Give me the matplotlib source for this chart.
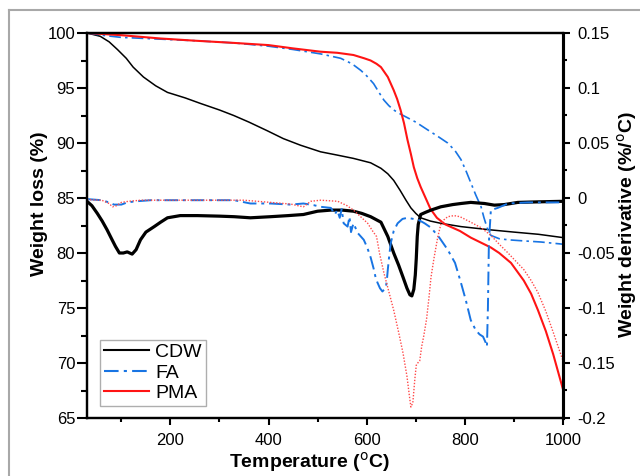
import matplotlib

matplotlib.use("Agg")

import matplotlib.pyplot as plt
from matplotlib.lines import Line2D
from matplotlib.ticker import MultipleLocator

plt.rcParams["font.family"] = ["Liberation Sans", "DejaVu Sans"]

# ---- TG curves (weight loss, %) ----
cdw_tg_t = [30, 57, 75, 92, 110, 124, 145, 170, 194, 230, 261, 300, 329, 360, 398, 430, 465, 506,
            540, 573, 608, 629, 643, 655, 668, 680, 690, 700, 710, 730, 751, 792, 853, 900, 950, 1000]
cdw_tg_w = [100, 99.7, 99.2, 98.5, 97.7, 96.9, 96.0, 95.2, 94.6, 94.1, 93.6, 93.0, 92.5, 91.9, 91.1,
            90.4, 89.8, 89.2, 88.9, 88.6, 88.2, 87.7, 87.2, 86.6, 85.7, 84.8, 84.1, 83.6, 83.2, 82.9,
            82.7, 82.4, 82.1, 81.9, 81.7, 81.4]

fa_tg_t = [30, 60, 100, 150, 200, 250, 329, 400, 450, 506, 547, 570, 588, 600, 614, 625, 635, 645,
           655, 670, 683, 700, 724, 745, 765, 780, 792, 802, 812, 822, 833, 839, 846, 853, 870, 888,
           920, 955, 1000]
fa_tg_w = [100, 99.8, 99.6, 99.5, 99.4, 99.3, 99.1, 98.8, 98.5, 98.1, 97.7, 97.2, 96.6, 96.1, 95.4,
           94.6, 93.9, 93.4, 93.0, 92.6, 92.3, 91.9, 91.2, 90.6, 90.0, 89.3, 88.5, 87.5, 86.4, 85.3,
           84.2, 83.2, 82.2, 81.6, 81.3, 81.2, 81.1, 81.0, 80.8]

pma_tg_t = [30, 100, 180, 250, 329, 400, 450, 506, 540, 573, 595, 608, 620, 629, 643, 655, 662, 669,
            676, 683, 690, 696, 703, 710, 720, 730, 743, 760, 790, 812, 853, 870, 894, 920, 935, 949,
            965, 980, 1000]
pma_tg_w = [100, 99.8, 99.5, 99.3, 99.1, 98.9, 98.6, 98.3, 98.2, 98.0, 97.7, 97.5, 97.2, 96.9, 96.0,
            94.8, 94.0, 93.0, 91.8, 90.3, 89.0, 87.8, 86.8, 86.0, 85.0, 84.0, 83.2, 82.6, 82.0, 81.4,
            80.5, 80.0, 79.1, 77.5, 76.3, 74.8, 72.9, 70.8, 67.6]

# ---- DTG curves (weight derivative, %/oC) ----
cdw_dtg_t = [30, 40, 51, 61, 71, 80, 88, 96, 104, 112, 122, 130, 139, 150, 167, 180, 194, 220, 255,
             300, 330, 363, 404, 440, 471, 500, 527, 550, 573, 590, 608, 629, 643, 655, 665, 674, 682,
             688, 692, 696, 699, 701, 703, 705, 710, 720, 731, 751, 775, 792, 812, 840, 860, 880, 908,
             950, 1000]
cdw_dtg_d = [-0.003, -0.007, -0.014, -0.021, -0.029, -0.037, -0.044, -0.050, -0.050, -0.049, -0.051,
             -0.047, -0.038, -0.031, -0.026, -0.022, -0.018, -0.016, -0.016, -0.0165, -0.017, -0.018,
             -0.017, -0.016, -0.015, -0.012, -0.011, -0.011, -0.012, -0.014, -0.017, -0.022, -0.035,
             -0.050, -0.061, -0.072, -0.082, -0.088, -0.089, -0.083, -0.070, -0.055, -0.035, -0.024,
             -0.015, -0.013, -0.011, -0.008, -0.006, -0.005, -0.004, -0.005, -0.0065, -0.006, -0.004,
             -0.0035, -0.003]

fa_dtg_t = [30, 60, 75, 85, 100, 112, 130, 160, 250, 330, 363, 404, 445, 471, 492, 506, 527, 535, 540,
            545, 549, 553, 561, 565, 568, 573, 582, 594, 601, 608, 614, 618, 622, 627, 632, 636, 639,
            641, 643, 646, 649, 655, 663, 673, 683, 695, 706, 718, 731, 748, 765, 780, 792, 802, 812,
            822, 830, 837, 842, 845, 847, 849, 853, 860, 867, 888, 929, 1000]
fa_dtg_d = [-0.001, -0.002, -0.004, -0.006, -0.006, -0.004, -0.003, -0.002, -0.002, -0.002, -0.005,
            -0.005, -0.006, -0.005, -0.0065, -0.008, -0.009, -0.015, -0.011, -0.018, -0.010, -0.023,
            -0.026, -0.017, -0.031, -0.023, -0.032, -0.038, -0.045, -0.054, -0.064, -0.072, -0.077,
            -0.082, -0.085, -0.083, -0.081, -0.075, -0.065, -0.052, -0.041, -0.030, -0.023, -0.019,
            -0.018, -0.019, -0.020, -0.023, -0.027, -0.036, -0.047, -0.059, -0.077, -0.093, -0.111,
            -0.120, -0.124, -0.126, -0.131, -0.135, -0.100, -0.040, -0.011, -0.010, -0.009, -0.005,
            -0.004, -0.004]

pma_dtg_t = [30, 60, 75, 82, 90, 100, 115, 140, 250, 350, 404, 445, 460, 471, 480, 486, 506, 541, 560,
             573, 590, 602, 612, 620, 626, 635, 645, 655, 665, 674, 682, 687, 690, 694, 698, 701, 704,
             708, 712, 716, 722, 727, 731, 737, 745, 751, 757, 765, 778, 790, 812, 833, 853, 870, 888,
             905, 920, 935, 949, 965, 980, 1000]
pma_dtg_d = [-0.0015, -0.002, -0.005, -0.008, -0.007, -0.004, -0.003, -0.002, -0.002, -0.002, -0.004,
             -0.0055, -0.007, -0.008, -0.005, -0.003, -0.002, -0.003, -0.007, -0.011, -0.018, -0.023,
             -0.030, -0.035, -0.050, -0.068, -0.085, -0.102, -0.122, -0.141, -0.162, -0.180, -0.190,
             -0.186, -0.165, -0.152, -0.150, -0.148, -0.135, -0.126, -0.110, -0.090, -0.072, -0.055,
             -0.035, -0.024, -0.020, -0.017, -0.016, -0.017, -0.022, -0.027, -0.034, -0.042, -0.050,
             -0.058, -0.065, -0.075, -0.086, -0.103, -0.122, -0.148]

left_ticks = [65, 70, 75, 80, 85, 90, 95, 100]
right_ticks = [-0.2, -0.15, -0.1, -0.05, 0, 0.05, 0.1, 0.15]
right_labels = ["-0.2", "-0.15", "-0.1", "-0.05", "0", "0.05", "0.1", "0.15"]

BLUE = "#1874e3"
RED = "#ff1414"
DASHDOT = (0, (7, 2.5, 1.5, 2.5))

fig = plt.figure(figsize=(6.4, 4.76), dpi=100)
ax = fig.add_axes([87 / 640, 1 - 418 / 476, 476 / 640, 385 / 476])
ax2 = ax.twinx()

ax.plot(cdw_tg_t, cdw_tg_w, color="black", lw=1.1)
ax.plot(fa_tg_t, fa_tg_w, color=BLUE, lw=1.2, linestyle=DASHDOT)
ax.plot(pma_tg_t, pma_tg_w, color=RED, lw=1.5)

ax2.plot(cdw_dtg_t, cdw_dtg_d, color="black", lw=2.3)
ax2.plot(fa_dtg_t, fa_dtg_d, color=BLUE, lw=1.4, linestyle=DASHDOT)
ax2.plot(pma_dtg_t, pma_dtg_d, color="#ff4a4a", lw=1.0, linestyle=(0, (1, 1.2)))

ax.set_xlim(30, 1000)
ax.set_ylim(65, 100)
ax2.set_ylim(-0.2, 0.15)

ax.xaxis.set_major_locator(MultipleLocator(200))
ax.xaxis.set_minor_locator(MultipleLocator(100))
ax.set_yticks(left_ticks)
ax.set_yticklabels([str(v) for v in left_ticks])
ax.yaxis.set_minor_locator(MultipleLocator(2.5))
ax2.set_yticks(right_ticks)
ax2.set_yticklabels(right_labels)
ax2.yaxis.set_minor_locator(MultipleLocator(0.025))

ax.tick_params(axis="y", which="major", direction="out", length=7, width=1.5, pad=1.5, labelsize=12)
ax.tick_params(axis="y", which="minor", direction="out", length=4.5, width=1.5)
ax.tick_params(axis="x", which="major", direction="out", length=5, width=1.5, pad=6, labelsize=12)
ax.tick_params(axis="x", which="minor", direction="out", length=3, width=1.5)
ax2.tick_params(axis="y", which="major", direction="out", length=5, width=1.5, pad=5, labelsize=12)
ax2.tick_params(axis="y", which="minor", direction="out", length=3, width=1.5)

for a in (ax, ax2):
    for side in ("left", "bottom", "top"):
        a.spines[side].set_linewidth(1.6)
    a.spines["right"].set_linewidth(2.2)

handles = [
    Line2D([], [], color="black", lw=1.5),
    Line2D([], [], color=BLUE, lw=1.5, linestyle=DASHDOT),
    Line2D([], [], color=RED, lw=1.5),
]
leg = ax2.legend(handles, ["CDW", "FA", "PMA"], loc="lower left",
                 bbox_to_anchor=(13 / 476, 12 / 385), fontsize=14, frameon=True, fancybox=False,
                 edgecolor="#9a9a9a", handlelength=2.3, handletextpad=0.35, labelspacing=0.15,
                 borderpad=0.2, borderaxespad=0)
leg.get_frame().set_linewidth(1.0)

fig.text(309 / 640, 1 - 462 / 476, r"Temperature ($^{\mathrm{o}}$C)", fontsize=14,
         fontweight="bold", ha="center", va="center")
fig.text(39 / 640, 1 - 204 / 476, "Weight loss (%)", fontsize=14, fontweight="bold",
         rotation=90, ha="center", va="center")
fig.text(627 / 640, 1 - 225 / 476, r"Weight derivative (%/$^{\mathrm{o}}$C)", fontsize=14,
         fontweight="bold", rotation=90, ha="center", va="center")

# grey outer frame visible at top and left
fig.add_artist(Line2D([9 / 640, 9 / 640], [0, 1 - 10 / 476], transform=fig.transFigure,
                      color="#a8a8a8", lw=1.5))
fig.add_artist(Line2D([9 / 640, 1], [1 - 10 / 476, 1 - 10 / 476], transform=fig.transFigure,
                      color="#a8a8a8", lw=1.5))

fig.savefig("out.png", dpi=100)
